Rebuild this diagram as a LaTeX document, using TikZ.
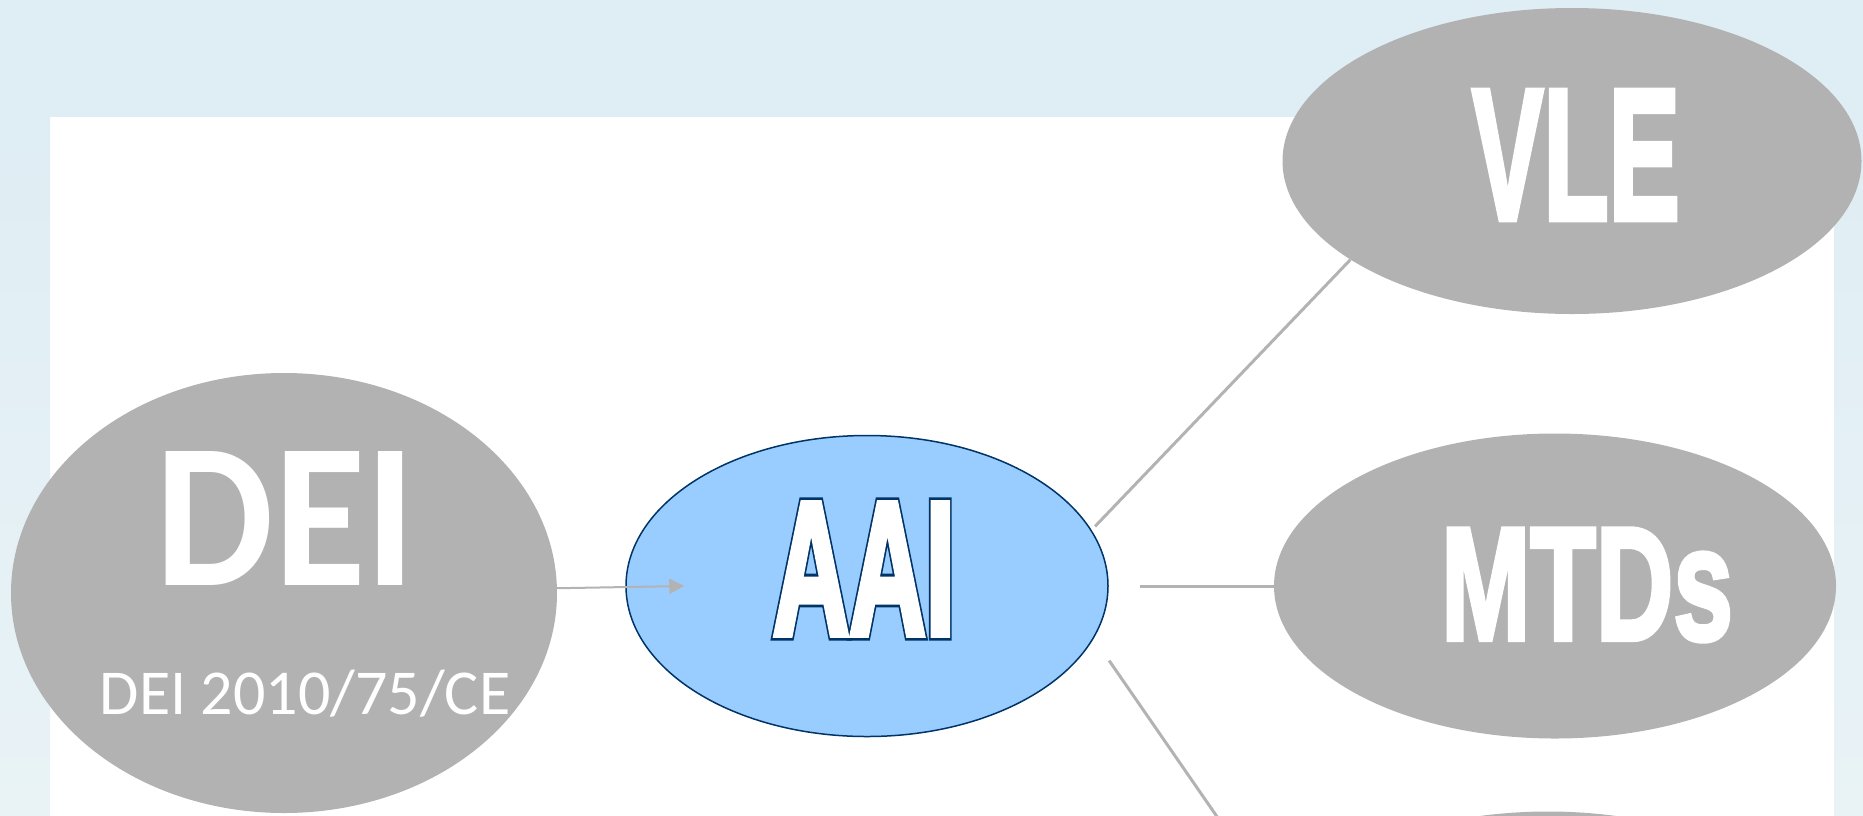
\documentclass[tikz,border=0pt]{standalone}
\usepackage{fontspec}
\setmainfont{Carlito}
\newfontfamily\arialfont[FakeBold=3]{Liberation Sans}
\newfontfamily\aaiinner[FakeBold=4]{Liberation Sans}
\newfontfamily\aaiouter[FakeBold=7]{Liberation Sans}
\usetikzlibrary{shapes.geometric,arrows.meta}

\definecolor{bandblue}{HTML}{DFEDF4}
\definecolor{stripblue}{HTML}{E9F3F6}
\definecolor{nodegray}{HTML}{B2B2B2}
\definecolor{aaifill}{HTML}{99CCFF}
\definecolor{aaiedge}{HTML}{003366}
\definecolor{linkgray}{HTML}{B3B3B3}

\tikzset{
  blob/.style={ellipse, fill=nodegray, inner sep=0pt},
  link/.style={draw=linkgray, line width=3pt},
  title/.style={text=white, inner sep=0pt},
}
\newcommand{\fitlabel}[3]{\resizebox{#1}{#2}{#3}}
% white letters with a dark blue rim
\newcommand{\rimtext}[1]{\rlap{\color{aaiedge}\aaiouter\bfseries #1}{\color{white}\aaiinner\bfseries #1}}

\begin{document}
\begin{tikzpicture}[x=1pt,y=-1pt]

    % Page and slide background
    \useasboundingbox (0,0) rectangle (1863,815);
    \clip (0,0) rectangle (1863,815);
    \fill[bandblue] (0,0) rectangle (1863,117);
    \shade[top color=bandblue, bottom color=stripblue] (0,117) rectangle (50,815);
    \shade[top color=bandblue, bottom color=stripblue] (1834,117) rectangle (1863,815);

    % The ellipses
    \node[blob, minimum width=546pt, minimum height=440pt] (DEI) at (284,593) {};
    \node[ellipse, fill=aaifill, draw=aaiedge, line width=1.5pt, inner sep=0pt,
          minimum width=482pt, minimum height=301pt] (AAI) at (867,586) {};
    \node[blob, minimum width=579pt, minimum height=306pt] (VLE) at (1572,161) {};
    \node[blob, minimum width=562pt, minimum height=305pt] (MTDs) at (1555,586) {};
    \node[blob, minimum width=562pt, minimum height=305pt] (lower) at (1548,964) {};

    % Labels inside the ellipses
    \node[title] (DEI-title) at (286,518) {\fitlabel{260pt}{134pt}{\bfseries DEI}};
    \node[title, font=\fontsize{64}{64}\selectfont, anchor=base] (DEI-dir) at (305,714) {DEI 2010/75/CE};
    \node[title] (AAI-title) at (864,569) {\fitlabel{182pt}{130pt}{\fontsize{190}{190}\selectfont\rimtext{AAI}}};
    \node[title] (VLE-title) at (1576,155) {\fitlabel{208pt}{129pt}{\arialfont\bfseries\fontsize{187}{187}\selectfont VLE}};
    \node[title] (MTDs-title) at (1587,585) {\fitlabel{292pt}{111pt}{\arialfont\bfseries\fontsize{162}{162}\selectfont MTDs}};

    % Connectors
    \draw[link, shorten <=5pt] (AAI.14.5) -- (VLE.204);
    \draw[link, shorten <=31pt] (AAI.east) -- (MTDs.west);
    \draw[link, shorten <=27pt] (AAI.-13) -- (lower.169);

    % Arrow from DEI into AAI
    \coordinate (AAI-in) at ([xshift=59pt]AAI.west);
    \draw[draw=linkgray, line width=2pt, -{Triangle[length=15pt,width=15pt]}] (DEI.1.5) -- (AAI-in);

\end{tikzpicture}
\end{document}
